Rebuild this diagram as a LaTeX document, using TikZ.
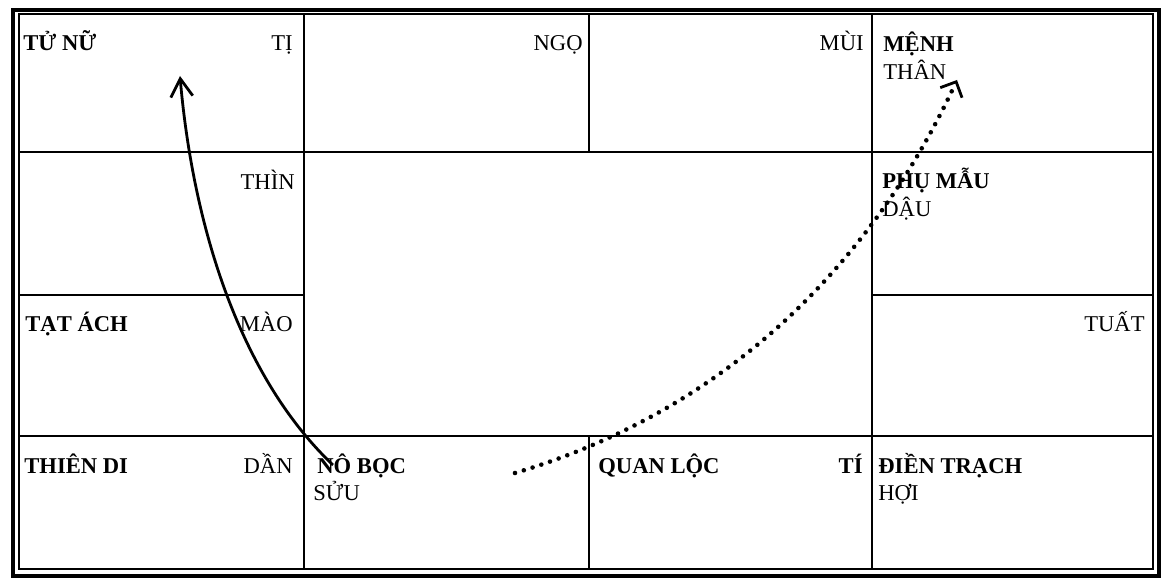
\documentclass[tikz,border=0pt]{standalone}
\usepackage{fontspec}
\setmainfont{Liberation Serif}
\usetikzlibrary{arrows.meta}
\begin{document}
\begin{tikzpicture}[x=0.5pt,y=-0.5pt,
  outerframe/.style={line width=1.6pt},
  innerframe/.style={line width=1.3pt},
  gridline/.style={line width=1.4pt},
  lab/.style={font=\fontsize{11.3}{13}\selectfont, inner sep=0pt},
  blab/.style={font=\fontsize{11.3}{13}\selectfont\bfseries, inner sep=0pt},
  solidarrow/.style={line width=1.4pt, -{Straight Barb[length=9pt,width=11pt,line width=1.4pt]}},
  dotarrow/.style={line width=2.3pt, line cap=round, dash pattern=on 0pt off 4.6pt,
    -{Straight Barb[length=6pt,width=12pt,line width=1.4pt,line cap=butt]}}
]
\useasboundingbox (0,0) rectangle (1175,588);
% frame
\draw[outerframe] (13,10) rectangle (1159,576);
\draw[innerframe] (19,14) rectangle (1153,569);
% grid
\draw[gridline] (19,152) -- (1153,152);
\draw[gridline] (19,436) -- (1153,436);
\draw[gridline] (19,295) -- (304,295);
\draw[gridline] (872,295) -- (1153,295);
\draw[gridline] (304,14) -- (304,569);
\draw[gridline] (872,14) -- (872,569);
\draw[gridline] (589,14) -- (589,152);
\draw[gridline] (589,436) -- (589,569);
% top row
\node[blab, anchor=base west] (tuNu) at (23,51) {TỬ NỮ};
\node[lab, anchor=base east] (ti) at (293,51) {TỊ};
\node[lab, anchor=base east] (ngo) at (583,51) {NGỌ};
\node[lab, anchor=base east] (mui) at (864,51) {MÙI};
\node[blab, anchor=base west] (menh) at (883,52) {MỆNH};
\node[lab, anchor=base west] (than) at (883,80) {THÂN};
% left column
\node[lab, anchor=base east] (thin) at (295,190) {THÌN};
\node[blab, anchor=base west] (tatAch) at (25,332) {TẠT ÁCH};
\node[lab, anchor=base east] (mao) at (293,332) {MÀO};
% right column
\node[blab, anchor=base west] (phuMau) at (882,189) {PHỤ MẪU};
\node[lab, anchor=base west] (dau) at (882,217) {DẬU};
\node[lab, anchor=base east] (tuat) at (1145,332) {TUẤT};
% bottom row
\node[blab, anchor=base west] (thienDi) at (24,474) {THIÊN DI};
\node[lab, anchor=base east] (dan) at (293,474) {DẦN};
\node[blab, anchor=base west] (noBoc) at (317,474) {NÔ BỌC};
\node[lab, anchor=base west] (suu) at (313,501) {SỬU};
\node[blab, anchor=base west] (quanLoc) at (598,474) {QUAN LỘC};
\node[blab, anchor=base east] (tiB) at (863,474) {TÍ};
\node[blab, anchor=base west] (dienTrach) at (878,474) {ĐIỀN TRẠCH};
\node[lab, anchor=base west] (hoi) at (878,501) {HỢI};
% arrows
\coordinate (solidStart) at (333,465);
\coordinate (solidEnd) at (180,76);
\coordinate (dotStart) at (515,473);
\coordinate (dotEnd) at (957,80);
\draw[solidarrow] (solidStart) .. controls (235,372) and (192,215) .. (solidEnd);
\draw[dotarrow] (dotStart) .. controls (760,400) and (890,225) .. (dotEnd);
\end{tikzpicture}
\end{document}
